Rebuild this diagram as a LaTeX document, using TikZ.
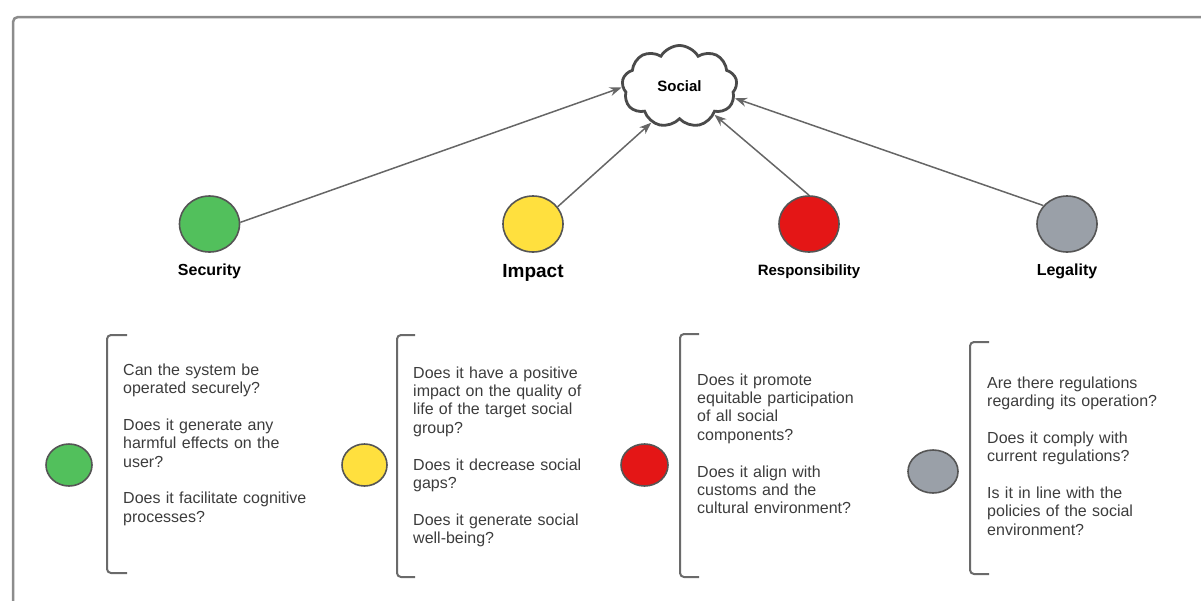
\documentclass[tikz,border=0pt]{standalone}
\usepackage{fontspec}
\setmainfont{Liberation Sans}
\usetikzlibrary{shapes.symbols,shapes.geometric,arrows.meta}

\definecolor{frameGray}{HTML}{8C8C8C}
\definecolor{edgeGray}{HTML}{555555}
\definecolor{linkGray}{HTML}{666666}
\definecolor{bracketGray}{HTML}{6A6A6A}
\definecolor{textGray}{HTML}{3C3C3C}
\definecolor{cloudGray}{HTML}{4A4A4A}
\definecolor{secGreen}{HTML}{52C05C}
\definecolor{impYellow}{HTML}{FFE03E}
\definecolor{resRed}{HTML}{E41616}
\definecolor{legGray}{HTML}{9AA0A8}

\begin{document}
\begin{tikzpicture}[x=1pt,y=-1pt,
  pillar/.style={ellipse, draw=edgeGray, line width=1.6pt, inner sep=0pt,
    minimum width=60pt, minimum height=56pt},
  minidot/.style={ellipse, draw=edgeGray, line width=1.6pt, inner sep=0pt,
    minimum height=42pt},
  lbl/.style={anchor=base, inner sep=0pt, text=black},
  qtext/.style={anchor=base west, text width=270pt, align=left, inner sep=0pt,
    text=textGray, font=\fontsize{16}{18.4}\selectfont},
  bracketline/.style={draw=bracketGray, line width=2pt, rounded corners=4pt},
  link/.style={draw=linkGray, line width=1.5pt, -{Stealth[length=12pt,width=9pt]}}
]
\clip (0,0) rectangle (1201,600);

% outer frame
\draw[frameGray, line width=2.5pt, rounded corners=5pt] (13,17) rectangle (1250,650);

% central cloud
\node[cloud, cloud puffs=9, cloud puff arc=120, cloud ignores aspect,
      draw=cloudGray, line width=2.8pt, fill=white, inner sep=0pt,
      minimum width=115pt, minimum height=82pt,
      font=\bfseries\fontsize{15}{17}\selectfont] (soc) at (679.5,86.5) {Social};

% four pillars
\node[pillar, fill=secGreen]  (sec) at (209.5,224) {};
\node[pillar, fill=impYellow] (imp) at (533,224) {};
\node[pillar, fill=resRed]    (res) at (809,224) {};
\node[pillar, fill=legGray]   (leg) at (1067,224) {};

\node[lbl, font=\bfseries\fontsize{16}{19}\selectfont] (secl) at (209.5,275) {Security};
\node[lbl, font=\bfseries\fontsize{19}{22}\selectfont] (impl) at (533,277) {Impact};
\node[lbl, font=\bfseries\fontsize{15}{18}\selectfont] (resl) at (809,275) {Responsibility};
\node[lbl, font=\bfseries\fontsize{16}{19}\selectfont] (legl) at (1067,275) {Legality};

% links into the cloud
\draw[link] (sec.3)   -- (soc.181);
\draw[link] (imp.35)  -- (soc.-128);
\draw[link] (res.north) -- (soc.-39);
\draw[link] (leg.142) -- (soc.-12);

% question groups
\node[minidot, fill=secGreen, minimum width=46pt]  (d1) at (69,465) {};
\node[minidot, fill=impYellow, minimum width=45pt] (d2) at (364.5,465) {};
\node[minidot, fill=resRed, minimum width=47pt]    (d3) at (644.5,465) {};
\node[minidot, fill=legGray, minimum width=50pt, minimum height=43pt] (d4) at (933,471.5) {};

\draw[bracketline] (127,335) -- (107,335) -- (107,573) -- (127,573);
\draw[bracketline] (415,335) -- (397,335) -- (397,577) -- (415,577);
\draw[bracketline] (699,334) -- (680,334) -- (680,577) -- (699,577);
\draw[bracketline] (989,342) -- (970,342) -- (970,574) -- (989,574);

\node[qtext] (q1) at (123,375) {Can the system be\\ operated securely?\\[18.4pt]
  Does it generate any\\ harmful effects on the\\ user?\\[18.4pt]
  Does it facilitate cognitive\\ processes?};
\node[qtext] (q2) at (413,378) {Does it have a positive\\ impact on the quality of\\
  life of the target social\\ group?\\[18.4pt]
  Does it decrease social\\ gaps?\\[18.4pt]
  Does it generate social\\ well-being?};
\node[qtext] (q3) at (697,385) {Does it promote\\ equitable participation\\
  of all social\\ components?\\[18.4pt]
  Does it align with\\ customs and the\\ cultural environment?};
\node[qtext] (q4) at (987,388) {Are there regulations\\ regarding its operation?\\[18.4pt]
  Does it comply with\\ current regulations?\\[18.4pt]
  Is it in line with the\\ policies of the social\\ environment?};
\end{tikzpicture}
\end{document}
